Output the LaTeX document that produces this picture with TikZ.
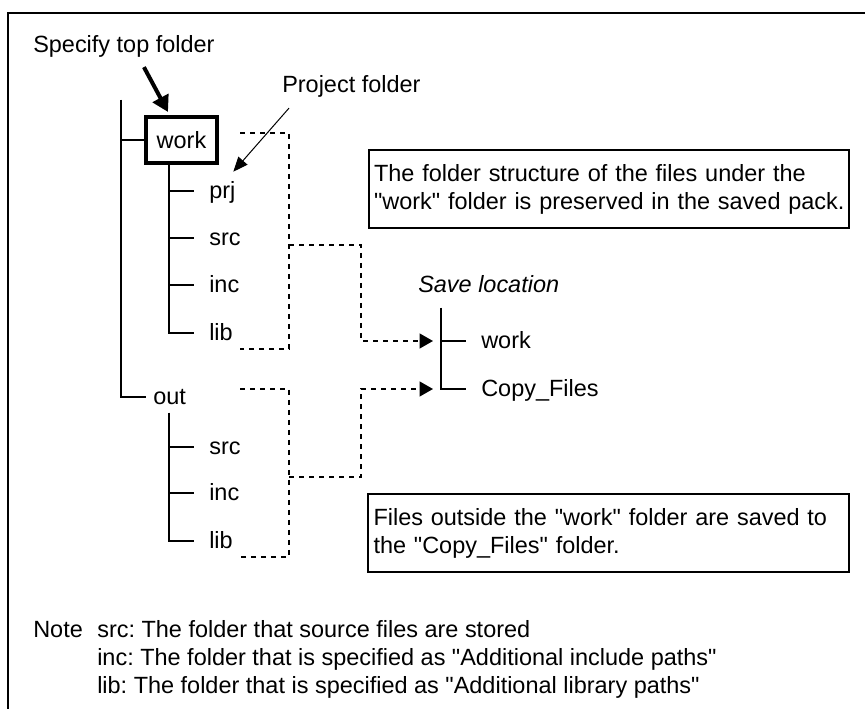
\documentclass[tikz,border=0pt]{standalone}
\usepackage{fontspec}
\setmainfont{Liberation Sans}[Ligatures=TeXOff]
\usetikzlibrary{arrows.meta,calc}
\frenchspacing
\tikzset{
  treeline/.style={line width=1.5pt},
  dashlink/.style={line width=1.5pt,dash pattern=on 4pt off 3.5pt},
  leaf/.style={anchor=west,inner xsep=11.25pt,inner ysep=0pt,text height=13pt,text depth=1pt},
  folderbox/.style={draw,line width=3.3pt,minimum width=53pt,minimum height=34.2pt,inner sep=0pt},
  infobox/.style={draw,line width=1.5pt,minimum width=358.5pt,minimum height=58.5pt,
    text width=352.5pt,inner xsep=4pt,align=left},
  plaintext/.style={anchor=base west,inner sep=0pt}
}
\begin{document}
\begin{tikzpicture}[x=0.75pt,y=-0.75pt,every node/.style={font=\fontsize{17.6}{21}\selectfont}]
    \useasboundingbox (0,0) rectangle (865,709);
    \draw[line width=1.5pt] (8,709) -- (8,13) -- (865,13);

    % source folders
    \coordinate (roottop) at (121,100);
    \node[folderbox] (work) at (181.5,140) {work};
    \node[leaf,inner xsep=5.25pt] (out) at (146,397) {out};
    \draw[treeline] (roottop) |- (work.west);
    \draw[treeline] (roottop) |- (out.west);

    \coordinate (worktrunk) at ($(work.south)+(-12.5,0)$);
    \node[leaf] (prj) at (194,191) {prj};
    \node[leaf] (wsrc) at (194,238) {src};
    \node[leaf] (winc) at (194,285) {inc};
    \node[leaf] (wlib) at (194,333) {lib};
    \draw[treeline] (worktrunk) |- (prj.west);
    \draw[treeline] (worktrunk) |- (wsrc.west);
    \draw[treeline] (worktrunk) |- (winc.west);
    \draw[treeline] (worktrunk) |- (wlib.west);

    \coordinate (outtrunk) at (169,413);
    \node[leaf] (osrc) at (194,447) {src};
    \node[leaf] (oinc) at (194,493) {inc};
    \node[leaf] (olib) at (194,541) {lib};
    \draw[treeline] (outtrunk) |- (osrc.west);
    \draw[treeline] (outtrunk) |- (oinc.west);
    \draw[treeline] (outtrunk) |- (olib.west);

    % save location
    \node[plaintext,font=\fontsize{17.6}{21}\selectfont\itshape] (saveloc) at (418,293) {Save location};
    \coordinate (savetrunk) at (441,308);
    \node[leaf] (savework) at (466,341) {work};
    \node[leaf] (copyfiles) at (466,389) {Copy\_Files};
    \draw[treeline] (savetrunk) |- (savework.west);
    \draw[treeline] (savetrunk) |- (copyfiles.west);

    % dashed brackets
    \coordinate (wtop) at (240,133);
    \coordinate (wmid) at (289,245);
    \coordinate (wbot) at (240,349);
    \coordinate (wtip) at (433,341);
    \draw[dashlink] (wtop) -| (wmid) |- (wbot);
    \draw[dashlink,-{Triangle[length=10pt,width=11pt]}] (wmid) -- ++(72,0) |- (wtip);

    \coordinate (otop) at (240,389);
    \coordinate (omid) at (289,477);
    \coordinate (obot) at (240,557);
    \coordinate (otip) at (433,389);
    \draw[dashlink] (otop) -| (omid) |- (obot);
    \draw[dashlink,-{Triangle[length=10pt,width=11pt]}] (omid) -- ++(72,0) |- (otip);

    % info boxes
    \node[infobox] (keepbox) at (609,189)
        {\mbox{The folder structure of the files under the}\\\mbox{"work" folder is preserved in the saved pack.}};
    \node[infobox] (copybox) at (608.5,533)
        {\mbox{Files outside the "work" folder are saved to}\\\mbox{the "Copy\_Files" folder.}};

    % callouts
    \node[plaintext] (specify) at (33,53) {Specify top folder};
    \node[plaintext] (project) at (282,93) {Project folder};
    \draw[line width=3pt,-{Triangle[length=12pt,width=13pt]}]
        ($(specify.south)+(20,9)$) -- ($(work.north)+(-13.5,-3)$);
    \draw[line width=0.75pt,-{Triangle[length=11pt,width=9pt]}]
        ($(project.south west)+(7,10)$) -- ($(prj.north)+(11,-9.7)$);

    % note
    \node[plaintext] (note) at (33,637) {Note};
    \node[plaintext] (notesrc) at (97,637) {src: The folder that source files are stored};
    \node[plaintext] (noteinc) at (97,665) {inc: The folder that is specified as "Additional include paths"};
    \node[plaintext] (notelib) at (97,693) {lib: The folder that is specified as "Additional library paths"};
\end{tikzpicture}
\end{document}
